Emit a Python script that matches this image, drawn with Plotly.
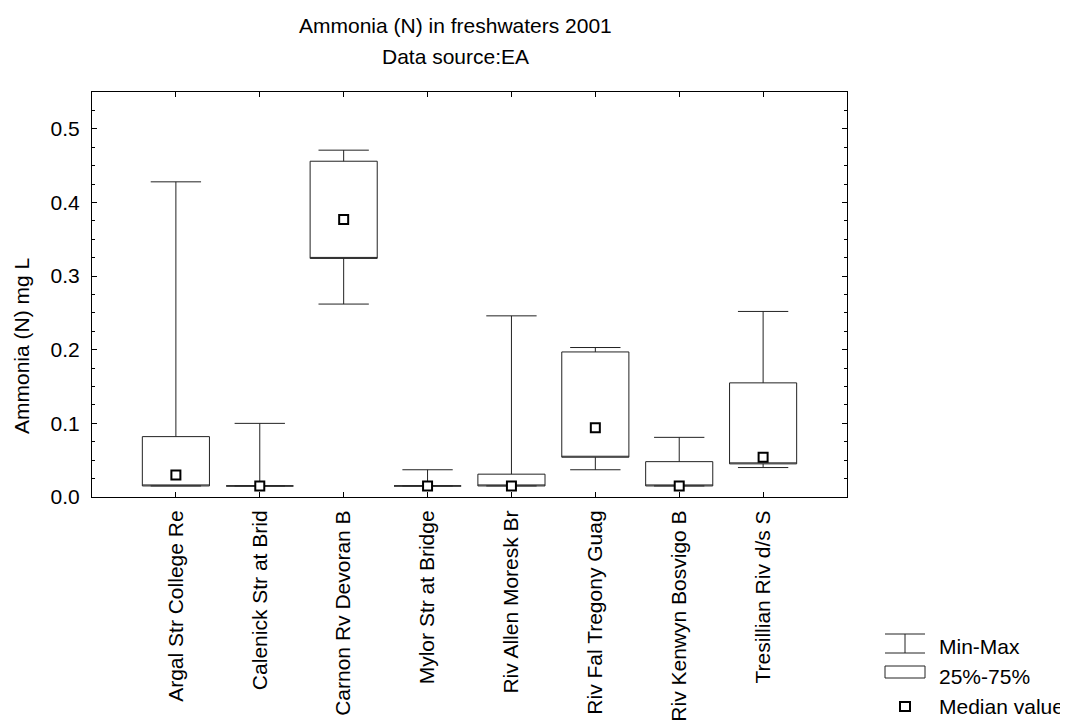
import plotly.graph_objects as go

# ---- data ----
sites = ["Argal Str College Re", "Calenick Str at Brid", "Carnon Rv Devoran B",
         "Mylor Str at Bridge", "Riv Allen Moresk Br", "Riv Fal Tregony Guag",
         "Riv Kenwyn Bosvigo B", "Tresillian Riv d/s S"]
min_vals = [0.015, 0.015, 0.262, 0.015, 0.015, 0.037, 0.015, 0.040]
q1_vals = [0.015, 0.015, 0.324, 0.015, 0.015, 0.054, 0.015, 0.045]
median_vals = [0.030, 0.015, 0.377, 0.015, 0.015, 0.094, 0.015, 0.054]
q3_vals = [0.082, 0.015, 0.456, 0.015, 0.031, 0.197, 0.048, 0.155]
max_vals = [0.428, 0.100, 0.471, 0.037, 0.246, 0.203, 0.081, 0.252]

title_line1 = "Ammonia (N) in freshwaters 2001"
title_line2 = "Data source:EA"
y_title = "Ammonia (N) mg L"
legend_labels = ["Min-Max", "25%-75%", "Median value"]

FONT = "Liberation Sans, Arial, sans-serif"
FS = 21
LINE = "#222222"

# layout geometry (pixels in the final page; the page body adds an 8px offset)
OFF = 8
W, H = 1068 - OFF, 722 - OFF
L, T = 92 - OFF, 92 - OFF
PW, PH = 755, 405
R, B = W - L - PW, H - T - PH
PLOT_BOTTOM = 497  # page pixel of y = 0


def px(x):
    return (x - 92) / PW


def py(y):
    return (PLOT_BOTTOM - y) / PH


fig = go.Figure()

# Boxes (25%-75%) with min-max whiskers; the median is drawn separately as a
# square marker, so the box's own median line is placed on the lower quartile.
fig.add_trace(go.Box(
    x=sites, q1=q1_vals, median=q1_vals, q3=q3_vals,
    lowerfence=min_vals, upperfence=max_vals,
    width=0.8, whiskerwidth=0.75,
    fillcolor="white", line=dict(color=LINE, width=1),
    boxpoints=False, showlegend=False, hoverinfo="skip",
))

fig.add_trace(go.Scatter(
    x=sites, y=median_vals, mode="markers",
    marker=dict(symbol="square", size=9, color="white",
                line=dict(color="black", width=2)),
    showlegend=False, hoverinfo="skip",
))

annotations = [
    dict(text=title_line1, x=px(455), y=py(25), xref="paper", yref="paper",
         xanchor="center", yanchor="middle", showarrow=False,
         font=dict(size=FS, family=FONT, color="black")),
    dict(text=title_line2, x=px(455), y=py(56), xref="paper", yref="paper",
         xanchor="center", yanchor="middle", showarrow=False,
         font=dict(size=FS, family=FONT, color="black")),
    dict(text=y_title, x=px(21), y=py(346), xref="paper", yref="paper",
         xanchor="center", yanchor="middle", textangle=-90, showarrow=False,
         font=dict(size=FS, family=FONT, color="black")),
]
for lab, yc in zip(legend_labels, [646, 676, 706]):
    annotations.append(dict(text=lab, x=px(937), y=py(yc), xref="paper", yref="paper",
                            xanchor="left", yanchor="middle", showarrow=False,
                            font=dict(size=FS, family=FONT, color="black")))

shapes = [
    # Min-Max legend icon
    dict(type="line", xref="paper", yref="paper", x0=px(885), x1=px(925), y0=py(634), y1=py(634),
         line=dict(color=LINE, width=1)),
    dict(type="line", xref="paper", yref="paper", x0=px(885), x1=px(925), y0=py(653), y1=py(653),
         line=dict(color=LINE, width=1)),
    dict(type="line", xref="paper", yref="paper", x0=px(905), x1=px(905), y0=py(634), y1=py(653),
         line=dict(color=LINE, width=1)),
    # 25%-75% legend icon
    dict(type="rect", xref="paper", yref="paper", x0=px(885), x1=px(925), y0=py(666), y1=py(678),
         line=dict(color=LINE, width=1), fillcolor="white"),
    # Median legend icon
    dict(type="rect", xref="paper", yref="paper", x0=px(900), x1=px(910), y0=py(702), y1=py(711),
         line=dict(color="black", width=2), fillcolor="white"),
]

fig.update_layout(
    width=W, height=H,
    margin=dict(l=L, r=R, t=T, b=B, pad=0, autoexpand=False),
    paper_bgcolor="white", plot_bgcolor="white",
    font=dict(family=FONT, size=FS, color="black"),
    annotations=annotations, shapes=shapes,
    showlegend=False,
)

fig.update_xaxes(
    type="category", range=[-1, 8], automargin=False,
    showline=True, linecolor="black", linewidth=1, mirror="ticks",
    ticks="inside", ticklen=5, tickwidth=1, tickcolor="black",
    tickangle=-90, tickfont=dict(size=FS, family=FONT, color="black"),
    showgrid=False, zeroline=False, ticklabelstandoff=4,
)
fig.update_yaxes(
    range=[0, 0.55], dtick=0.1, tick0=0, tickformat=".1f", automargin=False,
    showline=True, linecolor="black", linewidth=1, mirror="ticks",
    ticks="inside", ticklen=5, tickwidth=1, tickcolor="black",
    minor=dict(dtick=0.025, ticks="inside", ticklen=3, tickcolor="black", showgrid=False),
    tickfont=dict(size=FS, family=FONT, color="black"),
    showgrid=False, zeroline=False, ticklabelstandoff=7,
)

fig.write_html("out.html")
